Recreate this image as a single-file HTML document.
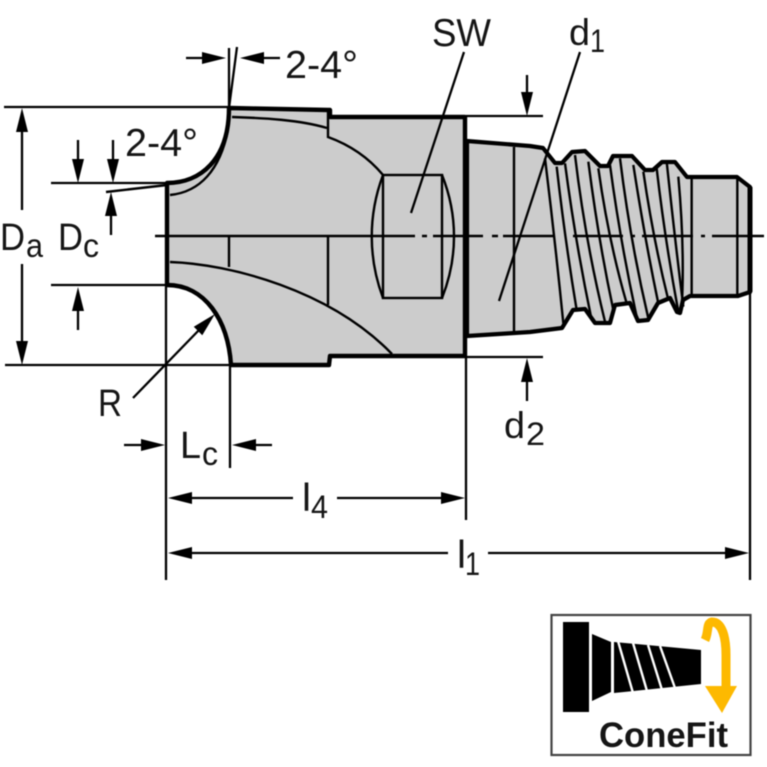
<!DOCTYPE html>
<html>
<head>
<meta charset="utf-8">
<style>
html,body{margin:0;padding:0;background:#fff;width:767px;height:767px;overflow:hidden}
svg{display:block;filter:blur(.45px)}
text{font-family:"Liberation Sans",sans-serif;fill:#151515}
</style>
</head>
<body>
<svg width="767" height="767" viewBox="0 0 767 767" xmlns="http://www.w3.org/2000/svg">
<defs>
<g id="ah"><polygon points="0,0 -24,-6 -24,6" fill="#000"/></g>
</defs>
<!-- body fill and outline -->
<path d="M167,183 C200,183 229,160 229,108 L328,110 L330,117 L465,117 L465,356 L330,356 L329,365 L231,365 C228,320 205,285 167,285 Z" fill="#ccc"/>
<polygon points="467,141 530,146 543,148 555,163 562,163 572,152 585,151 600,166 608,166 613,156 632,156 645,170 653,170 662,162 675,162 687,177 737,177 750,187 750,292 738,296 690,296 683,300 680,313 677,312 670,298 658,303 648,320 638,321 630,303 615,305 610,323 595,323 585,309 573,310 562,328 530,332 467,336" fill="#ccc" stroke="#000" stroke-width="4.2" stroke-linejoin="round"/>
<!-- thick outlines -->
<g fill="none" stroke="#000" stroke-width="4.4">
<path d="M167,285 L167,183 C200,183 229,160 229,108 L328,110 L330,110 L330,117 L465,117 M465,117 L465,356 M465,356 L330,356 L329,365 L231,365 C228,320 205,285 167,285" stroke-linejoin="round"/>
<path d="M750,187 L750,292" stroke-width="5"/>
</g>
<!-- interior lines -->
<g fill="none" stroke="#000" stroke-width="2.4">
<path d="M232,117 C265,118 300,120 327,128"/>
<path d="M328,110 L328,137 C350,145 368,157 383,175"/>
<path d="M170,195 C200,192 220,170 228,130"/>
<path d="M106,192 L167,185"/>
<path d="M229,236 V267 M328,236 V305"/>
<path d="M170,262 C230,264 330,290 392,354"/>
<rect x="383" y="175" width="59" height="123"/>
<path d="M383,175 C368,215 368,258 383,298"/>
<path d="M442,175 C458,215 458,258 442,298"/>
<path d="M514,147 V333"/>
</g>
<!-- thread lines -->
<g fill="none" stroke="#000" transform="translate(530 130) scale(.3333)">
<g stroke-width="7.2">
<path d="M45,85 Q75,330 100,580"/>
<path d="M80,110 Q105,330 140,540"/>
<path d="M105,100 Q135,330 185,570"/>
<path d="M135,75 Q165,330 225,575"/>
<path d="M175,95 Q205,330 250,540"/>
<path d="M205,115 Q235,330 290,520"/>
<path d="M240,105 Q270,330 320,560"/>
<path d="M270,85 Q300,330 355,565"/>
<path d="M310,105 Q345,330 385,520"/>
<path d="M340,125 Q370,330 415,510"/>
<path d="M380,115 Q405,330 445,545"/>
<path d="M410,95 Q435,330 460,530"/>
<path d="M445,140 Q465,360 455,540"/>
<path d="M485,140 V497"/>
<path d="M622,145 V497"/>
</g>
</g>
<!-- center line -->
<g stroke="#000" stroke-width="2.5" fill="none">
<path d="M155,236 H415 M422,236 H427 M433,236 H483 M492,236 H498 M503,236 H555 M573,236 H623 M631,236 H635 M642,236 H693 M701,236 H705 M712,236 H764"/>
</g>
<!-- dimension lines -->
<g stroke="#000" stroke-width="2.3" fill="none">
<path d="M4,107 H229 M51,183 H167 M51,285 H167 M5,365 H231"/>
<path d="M465,116 H543 M465,357 H543"/>
<path d="M229,48 V108 M237,47 L229,108"/>
<path d="M186,58 H210 M256,58 H280"/>
<path d="M22,130 V210 M22,264 V342"/>
<path d="M78,140 V165 M113,140 V165 M111,212 V235 M78,305 V330"/>
<path d="M527,75 V100 M527,375 V401"/>
<path d="M411,213 L464,52 M499,301 L580,52"/>
<path d="M133,398 L200,329"/>
<path d="M166,285 V580 M230,365 V468 M466,356 V520 M750,292 V580"/>
<path d="M124,445 H145 M252,445 H272"/>
<path d="M190,498 H293 M337,498 H443"/>
<path d="M190,553 H448 M488,553 H728"/>
</g>
<!-- arrowheads -->
<g>
<use href="#ah" transform="translate(226 58)"/>
<use href="#ah" transform="translate(240 58) rotate(180)"/>
<use href="#ah" transform="translate(22 108) rotate(-90)"/>
<use href="#ah" transform="translate(22 365) rotate(90)"/>
<use href="#ah" transform="translate(78 183) rotate(90)"/>
<use href="#ah" transform="translate(113 183) rotate(90)"/>
<use href="#ah" transform="translate(111 192) rotate(-90)"/>
<use href="#ah" transform="translate(78 287) rotate(-90)"/>
<use href="#ah" transform="translate(527 116) rotate(90)"/>
<use href="#ah" transform="translate(527 358) rotate(-90)"/>
<use href="#ah" transform="translate(215 314) rotate(-45)"/>
<use href="#ah" transform="translate(165 445)"/>
<use href="#ah" transform="translate(232 445) rotate(180)"/>
<use href="#ah" transform="translate(168 498) rotate(180)"/>
<use href="#ah" transform="translate(465 498)"/>
<use href="#ah" transform="translate(168 553) rotate(180)"/>
<use href="#ah" transform="translate(749 553)"/>
</g>
<!-- labels -->
<g font-size="39">
<text x="285" y="78" textLength="73" lengthAdjust="spacingAndGlyphs">2-4°</text>
<text x="125" y="156" textLength="73" lengthAdjust="spacingAndGlyphs">2-4°</text>
<text x="432" y="46" textLength="59" lengthAdjust="spacingAndGlyphs">SW</text>
<text x="569" y="45" font-size="37" textLength="21" lengthAdjust="spacingAndGlyphs">d</text>
<text x="590" y="52" font-size="32" textLength="15" lengthAdjust="spacingAndGlyphs">1</text>
<text x="0" y="250" font-size="38" textLength="25" lengthAdjust="spacingAndGlyphs">D</text>
<text x="26" y="257" font-size="33" textLength="17" lengthAdjust="spacingAndGlyphs">a</text>
<text x="58" y="250" font-size="38" textLength="25" lengthAdjust="spacingAndGlyphs">D</text>
<text x="83" y="257" font-size="33" textLength="16" lengthAdjust="spacingAndGlyphs">c</text>
<text x="98" y="416" font-size="38" textLength="24" lengthAdjust="spacingAndGlyphs">R</text>
<text x="180" y="458" font-size="38" textLength="21" lengthAdjust="spacingAndGlyphs">L</text>
<text x="202" y="465" font-size="33" textLength="16" lengthAdjust="spacingAndGlyphs">c</text>
<text x="504" y="438" font-size="37" textLength="21" lengthAdjust="spacingAndGlyphs">d</text>
<text x="526" y="445" font-size="32" textLength="19" lengthAdjust="spacingAndGlyphs">2</text>
<text x="302" y="511" font-size="39" textLength="9" lengthAdjust="spacingAndGlyphs">l</text>
<text x="311" y="518" font-size="32" textLength="17" lengthAdjust="spacingAndGlyphs">4</text>
<text x="457" y="568" font-size="39" textLength="9" lengthAdjust="spacingAndGlyphs">l</text>
<text x="465" y="575" font-size="32" textLength="15" lengthAdjust="spacingAndGlyphs">1</text>
</g>
<!-- ConeFit logo -->
<rect x="551.5" y="615" width="199" height="140" fill="#fff" stroke="#444" stroke-width="2.2"/>
<rect x="563" y="622" width="26" height="90" fill="#000"/>
<polygon points="592,634 611,642 611,692 592,701" fill="#000"/>
<polygon points="614,642 701,650 701,684 614,693" fill="#000"/>
<g stroke="#fff" stroke-width="2.4" fill="none">
<path d="M618,641 L633,693 M633,643 L647,691 M648,645 L662,690 M660,646 L675,688"/>
</g>
<path d="M705,640 C709,632 706,623 712,622 C722,622 726,637 726,655 L726,688" fill="none" stroke="#fdb900" stroke-width="9"/>
<polygon points="705,686 737,686 722,713" fill="#fdb900"/>
<text x="599" y="747" font-size="35" font-weight="bold" textLength="129" lengthAdjust="spacingAndGlyphs">ConeFit</text>
</svg>
</body>
</html>
